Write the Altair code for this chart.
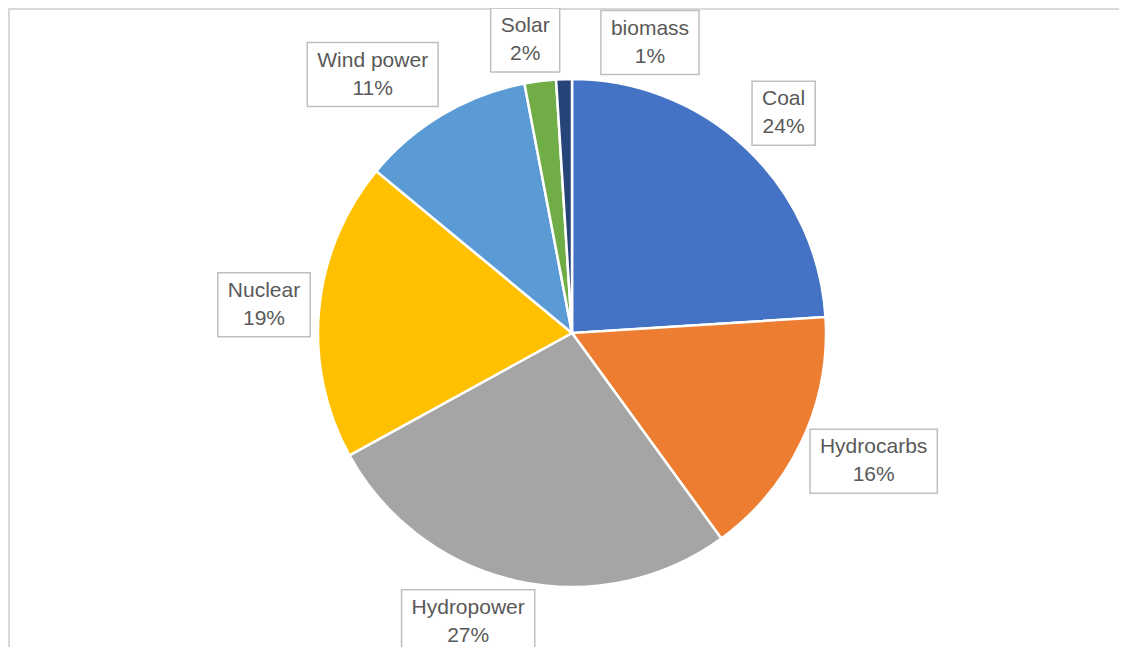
import math
import altair as alt
import pandas as pd

# ---- data ----
categories = ["Coal", "Hydrocarbs", "Hydropower", "Nuclear", "Wind power", "Solar", "biomass"]
shares = [24, 16, 27, 19, 11, 2, 1]
colors = ["#4472C4", "#ED7D31", "#A5A5A5", "#FFC000", "#5B9BD5", "#70AD47", "#264478"]

# ---- layout / style constants ----
W, H = 1111, 639
CX, CY = 564, 325          # pie centre within the chart
R = 254                    # pie radius
R_LABEL = 263              # label anchor radius
FONT = "Liberation Sans"
FS = 21
BOX_H = 64
PAD = 10
LINE = 14                  # half the distance between the two label lines
KX, KY = 3.2, 1.2          # how fast the box swings to the outside of its anchor
GAP = 40                   # minimum horizontal spacing between label boxes

CHAR_W = {"H": .722, "y": .5, "d": .556, "r": .333, "o": .556, "c": .5, "a": .556,
          "b": .556, "s": .5, "C": .722, "l": .222, "N": .722, "u": .556, "e": .556,
          "W": .944, "i": .222, "n": .556, "p": .556, "w": .722, "S": .667, "m": .833,
          "%": .889, " ": .278}


def text_w(s):
    return sum(CHAR_W.get(ch, .556) for ch in s) * FS


total = sum(shares)
pct_labels = [f"{round(100 * v / total)}%" for v in shares]


def box_at(angle, w):
    s, c = math.sin(angle), math.cos(angle)
    px, py = CX + R_LABEL * s, CY - R_LABEL * c
    cx = px + w / 2 * max(-1, min(1, KX * s))
    cy = py - BOX_H / 2 * max(-1, min(1, KY * c))
    return cx, cy


def overlaps(a, b):
    return not (a[1] + GAP <= b[0] or b[1] + GAP <= a[0] or a[3] <= b[2] or b[3] <= a[2])


rows = []
placed = []
cum = 0
for i, (cat, v, pl) in enumerate(zip(categories, shares, pct_labels)):
    mid = 2 * math.pi * (cum + v / 2) / total
    cum += v
    w = max(text_w(cat), text_w(pl)) + 2 * PAD
    ang = mid
    for _ in range(400):
        cx, cy = box_at(ang, w)
        rect = (cx - w / 2, cx + w / 2, cy - BOX_H / 2, cy + BOX_H / 2)
        if not any(overlaps(rect, p) for p in placed):
            break
        ang += math.radians(0.5)
    placed.append(rect)
    rows.append(dict(cat=cat, pct=pl, cx=cx, cy=cy, x0=rect[0], x1=rect[1], y0=rect[2], y1=rect[3]))

pie_df = pd.DataFrame({"cat": categories, "value": shares, "idx": list(range(len(categories)))})
lab_df = pd.DataFrame(rows)

xs = alt.Scale(domain=[0, W], range=[0, W], nice=False, zero=False)
ys = alt.Scale(domain=[0, H], range=[0, H], nice=False, zero=False)

frame = alt.Chart(pd.DataFrame({"k": [0]})).mark_rect(
    fill="transparent", stroke="#D9D9D9", strokeWidth=2
).encode(x=alt.value(1), y=alt.value(1), x2=alt.value(W + 30), y2=alt.value(H + 30))

pie = alt.Chart(pie_df).mark_arc(radius=R, stroke="white", strokeWidth=2.5).encode(
    theta=alt.Theta("value:Q", stack=True),
    color=alt.Color("cat:N", scale=alt.Scale(domain=categories, range=colors), legend=None),
    order=alt.Order("idx:Q"),
    x=alt.value(CX),
    y=alt.value(CY),
)

boxes = alt.Chart(lab_df).mark_rect(fill="white", stroke="#BFBFBF", strokeWidth=1.5).encode(
    x=alt.X("x0:Q", scale=xs, axis=None),
    x2="x1:Q",
    y=alt.Y("y0:Q", scale=ys, axis=None),
    y2="y1:Q",
)

name_txt = alt.Chart(lab_df).mark_text(
    font=FONT, fontSize=FS, color="#595959", baseline="middle", align="center", dy=-LINE
).encode(x=alt.X("cx:Q", scale=xs, axis=None), y=alt.Y("cy:Q", scale=ys, axis=None), text="cat:N")

pct_txt = alt.Chart(lab_df).mark_text(
    font=FONT, fontSize=FS, color="#595959", baseline="middle", align="center", dy=LINE
).encode(x=alt.X("cx:Q", scale=xs, axis=None), y=alt.Y("cy:Q", scale=ys, axis=None), text="pct:N")

chart = alt.layer(frame, pie, boxes, name_txt, pct_txt).properties(
    width=W, height=H, padding=0, autosize="none", background="white"
).configure_view(strokeWidth=0)

chart.save("out.html", embed_options={"renderer": "svg", "actions": False})
